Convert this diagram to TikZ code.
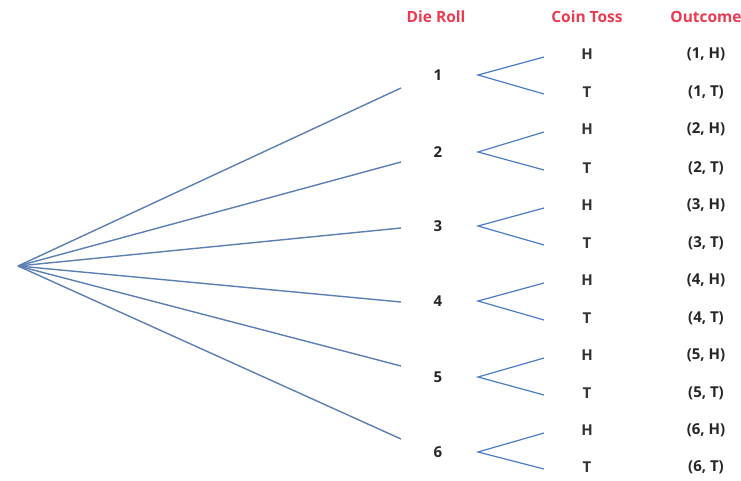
\documentclass[tikz,border=0pt]{standalone}
\usepackage{fontspec}
\setmainfont{Open Sans}
\begin{document}
\begin{tikzpicture}[x=1pt,y=-1pt,
  big/.style={draw=bigblue,line width=1.4pt},
  small/.style={draw=smallblue,line width=1.2pt},
  head/.style={text=headred,font=\fontsize{15.5}{18}\selectfont\bfseries},
  lab/.style={font=\fontsize{15}{18}\selectfont\bfseries,text=black!85},
  coin/.style={font=\fontsize{15}{18}\selectfont\bfseries,text=black!80},
  outcome/.style={font=\fontsize{15}{18}\selectfont\bfseries,text=black!85}]
\definecolor{bigblue}{HTML}{5B7FB2}
\definecolor{smallblue}{HTML}{4A7CC8}
\definecolor{headred}{HTML}{EC3A50}
\useasboundingbox (0,0) rectangle (741,481);
\coordinate (root) at (18,266);
\node[head] (hd) at (436,17) {Die Roll};
\node[head] (hc) at (587,17) {Coin Toss};
\node[head] (ho) at (706,17) {Outcome};
\foreach \i/\ey/\ly/\hy/\ty in {1/88/75/54/92, 2/162/152/129/168, 3/228/226/205/243, 4/302/301/280/318, 5/366/377/355/393, 6/439/452/430/467} {
  \coordinate (e\i) at (401,\ey);
  \draw[big] (root) -- (e\i);
  \node[lab] (d\i) at (438,\ly) {\i};
  \coordinate (s\i) at (478,\ly);
  \coordinate (sh\i) at (544,\hy+3);
  \coordinate (st\i) at (544,\ty+2);
  \draw[small] (sh\i) -- (s\i) -- (st\i);
  \node[coin] (h\i) at (587,\hy) {H};
  \node[coin] (t\i) at (587,\ty) {T};
  \node[outcome] (oh\i) at (706,\hy) {(\i, H)};
  \node[outcome] (ot\i) at (706,\ty) {(\i, T)};
}
\end{tikzpicture}
\end{document}
